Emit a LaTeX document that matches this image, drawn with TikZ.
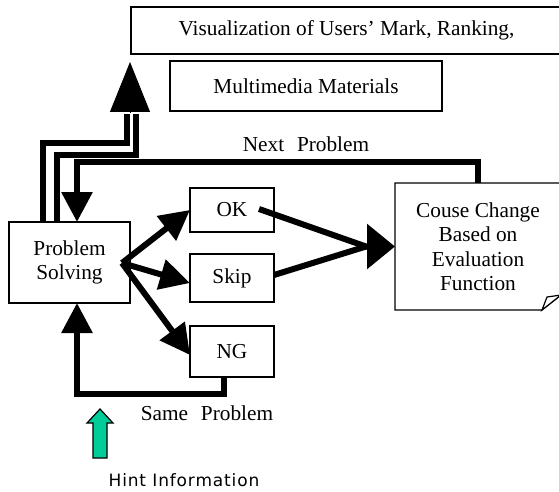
\documentclass[tikz,border=0pt]{standalone}
\usepackage{fontspec}
\setmainfont{Liberation Serif}
\newfontfamily\hintfont[LetterSpace=5]{DejaVu Sans}
\usetikzlibrary{arrows.meta,calc}
\definecolor{hintgreen}{HTML}{00CC99}
\tikzset{
  box/.style={draw, line width=1.2pt, inner sep=0pt, outer sep=0pt, anchor=north west,
              align=center, font=\fontsize{21.3}{24.5}\selectfont},
  flow/.style={line width=6pt},
  flowarrow/.style={flow, -{Triangle[length=30pt,width=30pt]}},
  bigarrow/.style={flow, line join=round, -{Triangle[length=28pt,width=44pt]}},
  lbl/.style={font=\fontsize{21.3}{24}\selectfont, inner sep=0pt}
}
\begin{document}
\begin{tikzpicture}[x=1pt,y=-1pt]
  \useasboundingbox (0,0) rectangle (559,492);
  \clip (0,0) rectangle (559,492);

  % boxes
  \node[box, minimum width=431pt, minimum height=47pt] (visu) at (131,7)
    {Visualization of Users' Mark, Ranking,};
  \node[box, minimum width=272pt, minimum height=50pt] (multi) at (170,61)
    {Multimedia Materials};
  \node[box, minimum width=121pt, minimum height=81pt] (prob) at (9,222)
    {Problem\\Solving};
  \node[box, minimum width=84pt, minimum height=44pt] (ok) at (190,188) {OK};
  \node[box, minimum width=84pt, minimum height=48pt] (skip) at (190,254) {Skip};
  \node[box, minimum width=84pt, minimum height=51pt] (ng) at (190,326) {NG};

  % note-shaped box with a curled corner
  \node[box, draw=none, minimum width=166pt, minimum height=127pt] (cause) at (395,183)
    {Couse Change\\Based on\\Evaluation\\Function};
  \draw[line width=1.2pt, line join=miter]
    (cause.north west) -- (cause.north east) -- ($(cause.south east)+(0,-15)$)
    -- ($(cause.south east)+(-19,0)$) -- (cause.south west) -- cycle;
  \draw[line width=1.2pt, fill=white]
    ($(cause.south east)+(-19,0)$) -- ($(cause.south east)+(-14,-13)$)
    -- ($(cause.south east)+(0,-15)$) -- cycle;

  % outputs of problem solving
  \coordinate (fan) at (122,263);
  \draw[flowarrow] (fan) -- (ok.west);
  \draw[flowarrow] (fan) -- ($(skip.west)+(0,5)$);
  \draw[flowarrow] (fan) -- ($(ng.west)+(0,3.5)$);

  % results merge into course change
  \coordinate (merge) at (366,246.5);
  \draw[flow, line join=round] ($(skip.east)+(0,-3)$) -- (merge);
  \draw[bigarrow] ($(ok.east)+(-15,-1)$) -- (merge) -- (cause.west);

  % next problem loop
  \draw[flowarrow] (cause.north) -- ++(0,-21) -| ($(prob.north west)+(68,0)$);
  \node[lbl] (nextlbl) at (306,144) {Next\hspace{0.6em}Problem};

  % same problem loop
  \draw[flowarrow] ($(ng.south)+(-8,0)$) -- ++(0,17) -| ($(prob.south west)+(68,0)$);
  \node[lbl] (samelbl) at (207,413) {Same\hspace{0.6em}Problem};

  % double line up to the visualization
  \coordinate (uptip) at (130,62);
  \draw[flow, line join=miter] ($(prob.north west)+(34,0)$) |- (127,143) -- (127,114);
  \draw[flow, line join=miter] ($(prob.north west)+(48,0)$) |- (136,155) -- (136,114);
  \draw[line width=1pt, -{Triangle[length=50pt,width=40pt]}] (130,113) -- (uptip);

  % hint arrow
  \draw[fill=hintgreen, line width=1.2pt, line join=miter]
    (100,409) -- (113,423) -- (107,423) -- (107,458) -- (93,458) -- (93,423)
    -- (87,423) -- cycle;
  \node[inner sep=0pt, font=\hintfont\fontsize{17}{20}\selectfont] (hint) at (184,480)
    {Hint Information};
\end{tikzpicture}
\end{document}
